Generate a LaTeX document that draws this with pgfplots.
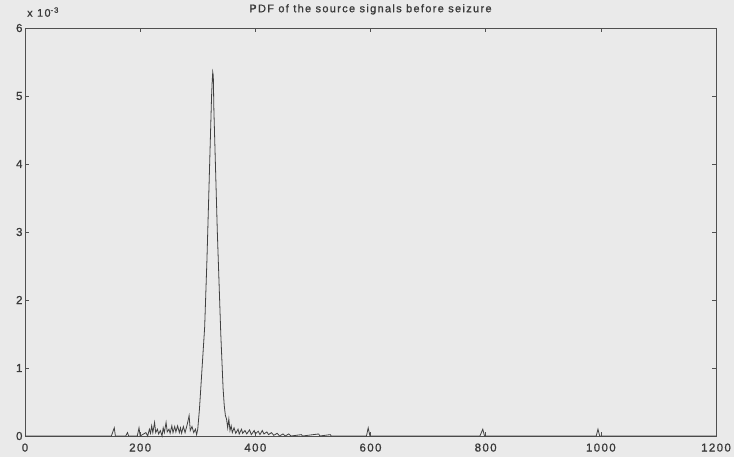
\documentclass[border=0pt]{standalone}
\usepackage{fontspec}
\setmainfont{Liberation Sans}
\newfontfamily\spaced[LetterSpace=12,FakeBold=1]{Liberation Sans}
\usepackage{pgfplots}
\pgfplotsset{compat=1.18}
\definecolor{bgc}{HTML}{EAEAEA}
\definecolor{axc}{HTML}{505050}
\definecolor{txc}{HTML}{3A3A3A}
\definecolor{lnc}{HTML}{404040}
\begin{document}
\begin{tikzpicture}
\fill[bgc] (-25bp,-21bp) rectangle (709bp,436bp);
\begin{axis}[
  scale only axis,
  clip=false,
  width=691bp, height=408bp,
  xmin=0, xmax=1200, ymin=0, ymax=6,
  xtick={0,200,400,600,800,1000,1200},
  ytick={0,1,2,3,4,5,6},
  tick align=inside,
  major tick length=4bp,
  axis line style={axc, line width=0.9bp},
  every tick/.style={axc, line width=0.6bp},
  tick label style={font=\fontsize{11.5bp}{13bp}\selectfont\spaced, text=txc},
  /pgf/number format/assume math mode=true,
  /pgf/number format/1000 sep={},
  xticklabel style={yshift=-4bp},
  yticklabel style={xshift=1bp},
  title={PDF of the source signals before seizure},
  title style={font=\fontsize{11bp}{12bp}\selectfont\spaced, text=txc, yshift=4bp},
  axis background/.style={fill=bgc},
]
\addplot[lnc, line width=0.8bp, sharp plot] coordinates {
(0,0) (150,0) (155,0.12) (157,0) (175,0) (178,0.05) (180,0) (195,0) (198,0.12) (200,0)
(210,0.05) (213,0) (216,0.1) (218,0.04) (220,0.15) (222,0.05) (225,0.2) (227,0.05)
(230,0.1) (232,0.03) (235,0.08) (238,0) (240,0.12) (242,0.05) (245,0.2) (247,0.06)
(250,0.1) (252,0.04) (255,0.15) (257,0.05) (260,0.14) (262,0.06) (265,0.15) (268,0.05)
(270,0.12) (272,0.04) (275,0.14) (278,0.05) (282,0.18) (285,0.3) (287,0.08) (290,0.14)
(293,0.05) (296,0.1) (298,0.02) (300,0.1) (303,0.4) (306,0.8) (309,1.2) (312,1.6)
(314,2.1) (316,2.6) (318,3.2) (320,3.8) (322,4.4) (324,5.0) (325,5.2) (326,5.35)
(327,5.3) (328,4.8) (329,4.5) (330,4.2) (331,3.9) (332,3.6) (333,3.3) (334,3.0)
(336,2.5) (338,2.0) (340,1.5) (342,1.1) (344,0.7) (346,0.45) (348,0.3) (350,0.25)
(352,0.12) (354,0.25) (356,0.08) (358,0.15) (360,0.05) (363,0.12) (366,0.04) (370,0.1)
(372,0.03) (376,0.1) (378,0.04) (382,0.08) (385,0.03) (390,0.09) (393,0.02) (398,0.08)
(400,0.03) (405,0.07) (408,0.02) (412,0.08) (415,0.03) (420,0.06) (423,0.02) (428,0.05)
(432,0.01) (438,0.04) (442,0) (448,0.03) (452,0) (458,0.03) (462,0) (480,0.02) (482,0)
(510,0.03) (512,0) (530,0.02) (532,0) (593,0) (596,0.12) (599,0) (790,0) (795,0.1)
(798,0) (992,0) (995,0.1) (998,0) (1200,0)
};
\node[anchor=south west, font=\fontsize{11bp}{12bp}\selectfont\spaced, text=txc, inner sep=0pt]
  at (rel axis cs:0,1) [xshift=2bp, yshift=11bp] {x 10\textsuperscript{-3}};
\end{axis}
\pgfresetboundingbox
\useasboundingbox (-25bp,-21bp) rectangle (709bp,436bp);
\end{tikzpicture}
\end{document}
